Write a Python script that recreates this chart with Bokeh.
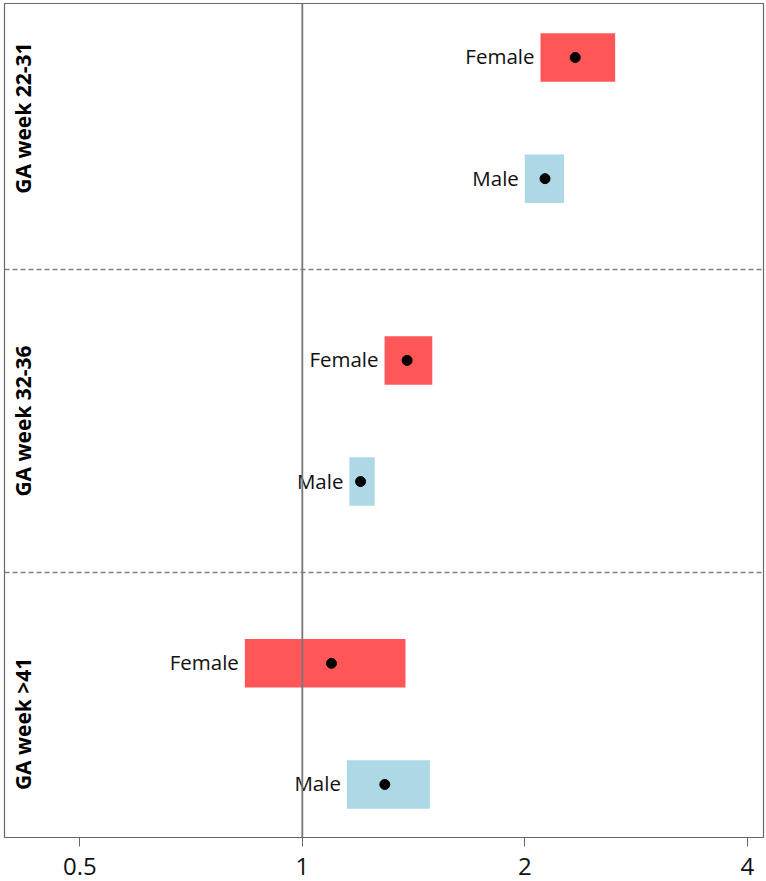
import math
from bokeh.plotting import figure
from bokeh.models import Range1d, Span, FixedTicker, ColumnDataSource
from bokeh.core.properties import value
from bokeh.embed import file_html
from bokeh.resources import INLINE

# ---- data ----
groups = ["GA week 22-31", "GA week 32-36", "GA week >41"]
sexes = ["Female", "Male"]
estimate = [2.34, 2.13, 1.386, 1.199, 1.095, 1.293]
lower = [2.10, 2.00, 1.292, 1.158, 0.836, 1.149]
upper = [2.65, 2.26, 1.499, 1.253, 1.379, 1.488]
tick_values = [0.5, 1, 2, 4]
tick_labels = ["0.5", "1", "2", "4"]

RED = "#FF5757"
BLUE = "#ADD8E6"

# row layout: two rows per group, gap between groups
rows, labels, colors = [], [], []
for gi, g in enumerate(groups):
    for si, s in enumerate(sexes):
        rows.append(gi * 5 + si * 2)
        labels.append(s)
        colors.append(RED if s == "Female" else BLUE)

src = ColumnDataSource(dict(y=rows, est=estimate, lo=lower, hi=upper,
                            lab=labels, col=colors))

x_start, x_end = 0.3954, 4.207
p = figure(width=766, height=881, x_axis_type="log",
           x_range=Range1d(x_start, x_end), y_range=Range1d(12.875, -0.891),
           output_backend="svg", toolbar_location=None,
           min_border_left=4, min_border_right=3, min_border_top=3,
           min_border_bottom=44)

p.xgrid.visible = False
p.ygrid.visible = False
p.yaxis.visible = False
p.outline_line_color = "#666666"
p.outline_line_width = 1.2

ax = p.xaxis[0]
ax.ticker = FixedTicker(ticks=tick_values, minor_ticks=[])
ax.major_label_overrides = {v: t for v, t in zip(tick_values, tick_labels)}
ax.axis_line_color = None
ax.major_tick_in = 0
ax.major_tick_out = 9
ax.major_tick_line_color = "#666666"
ax.minor_tick_line_color = None
ax.major_label_text_font = "Open Sans"
ax.major_label_text_font_size = "24px"
ax.major_label_text_color = "#111111"
ax.major_label_standoff = 11

# reference line at 1
p.add_layout(Span(location=1, dimension="height", line_color="#777777",
                  line_width=1.8))
# group separators
for gi in range(1, len(groups)):
    p.add_layout(Span(location=gi * 5 - 1.5, dimension="width",
                      line_color="#808080", line_width=1.6, line_dash="5 3"))

# CI bars
p.hbar(y="y", left="lo", right="hi", height=0.8, fill_color="col",
       line_color=None, source=src)
# estimates
p.scatter(x="est", y="y", size=10, color="black", source=src)
# labels
p.text(x="lo", y="y", text="lab", text_align="right", text_baseline="middle",
       x_offset=-6, y_offset=-1, text_font=value("Open Sans"),
       text_font_size="20.5px", text_color="#111111", source=src)

# group labels (rotated, inside frame at left)
gx = [x_start * 2 ** (19 / 222.5)] * len(groups)
gy = [gi * 5 + 1 for gi in range(len(groups))]
p.text(x=gx, y=gy, text=groups, angle=math.pi / 2, text_align="center",
       text_baseline="middle", text_font=value("Open Sans"),
       text_font_size="21px", text_font_style="bold", text_color="#000000")

open("out.html", "w").write(file_html(p, INLINE))
